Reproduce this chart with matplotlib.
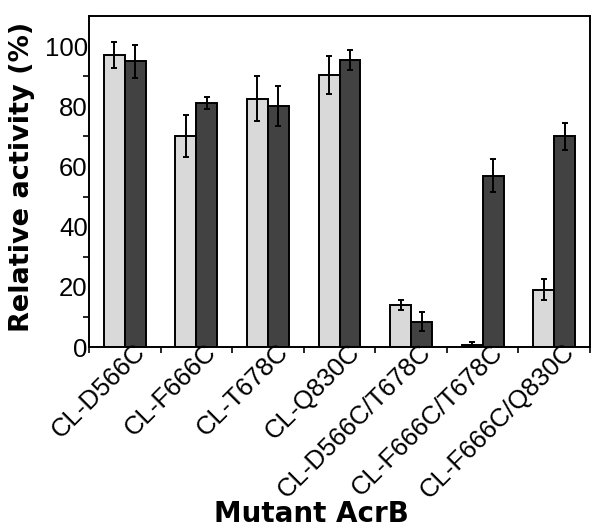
import matplotlib
matplotlib.use("Agg")
import matplotlib.pyplot as plt
import numpy as np

mutants = ["CL-D566C", "CL-F666C", "CL-T678C", "CL-Q830C",
           "CL-D566C/T678C", "CL-F666C/T678C", "CL-F666C/Q830C"]
light_vals = [97, 70, 82.5, 90.3, 14, 0.8, 19]
light_err = [4.3, 7, 7.5, 6.3, 1.5, 1, 3.5]
dark_vals = [95, 81, 80, 95.4, 8.5, 57, 70]
dark_err = [5.5, 2, 6.7, 3.4, 3.1, 5.6, 4.5]

fig = plt.figure(figsize=(6.02, 5.3), dpi=100)
ax = fig.add_axes([0.148, 0.345, 0.832, 0.625])

x = np.arange(len(mutants))
w = 0.293
ekw = dict(ecolor="black", elinewidth=1.4, capsize=2.5, capthick=1.4)
ax.bar(x - w / 2, light_vals, w, color="#d9d9d9", edgecolor="black", linewidth=1.4,
       yerr=light_err, error_kw=ekw)
ax.bar(x + w / 2, dark_vals, w, color="#424242", edgecolor="black", linewidth=1.4,
       yerr=dark_err, error_kw=ekw)

ax.set_xlim(-0.5, len(mutants) - 0.5)
ax.set_ylim(0, 110)
ax.set_yticks([0, 20, 40, 60, 80, 100])
ax.set_yticks(np.arange(10, 110, 20), minor=True)
ax.set_xticks(np.arange(-0.5, len(mutants), 1.0))
ax.set_xticklabels([])
# labels sit a bit right of the group centres, like the original
ax.set_xticks(x + 0.23, minor=True)
ax.set_xticklabels(mutants, minor=True, rotation=45, ha="right", va="center",
                   rotation_mode="anchor", fontsize=18.5, family="Liberation Sans")
ax.tick_params(axis="x", which="minor", length=0, pad=1)
ax.tick_params(axis="x", which="major", length=4, width=1.2, direction="out")
ax.tick_params(axis="y", which="major", length=0, pad=1)
ax.tick_params(axis="y", which="minor", length=4, width=1.2, direction="out")
for lab in ax.get_yticklabels():
    lab.set_fontsize(18.5)
    lab.set_family("Liberation Sans")

for s in ax.spines.values():
    s.set_linewidth(1.4)

ax.set_ylabel("Relative activity (%)", fontsize=19.5, fontweight="bold")
ax.yaxis.set_label_coords(-0.108, 0.515)
ax.set_xlabel("Mutant AcrB", fontsize=20, fontweight="bold")
ax.xaxis.set_label_coords(0.443, -0.46)

fig.savefig("out.png", dpi=100)
